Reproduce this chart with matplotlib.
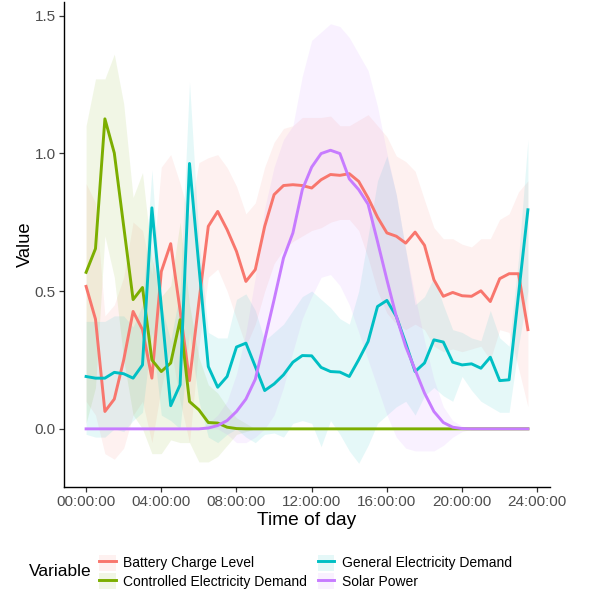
import numpy as np
import matplotlib
matplotlib.use("Agg")
import matplotlib.pyplot as plt
from matplotlib.patches import Patch
from matplotlib.lines import Line2D

plt.rcParams['font.family'] = ['Liberation Sans', 'DejaVu Sans']

# half-hourly steps, 00:00 .. 23:30
hours = np.arange(48) * 0.5

battery = [0.517, 0.398, 0.063, 0.108, 0.25, 0.426, 0.36, 0.184, 0.571, 0.672,
           0.43, 0.175, 0.46, 0.735, 0.789, 0.723, 0.644, 0.535, 0.578, 0.735,
           0.85, 0.883, 0.886, 0.883, 0.874, 0.904, 0.923, 0.92, 0.926, 0.898,
           0.838, 0.768, 0.711, 0.699, 0.674, 0.714, 0.666, 0.541, 0.481, 0.495,
           0.483, 0.481, 0.501, 0.462, 0.545, 0.563, 0.563, 0.36]
battery_lo = [0.10, 0.05, -0.09, -0.11, -0.07, 0.05, 0.10, -0.05, 0.15, 0.30,
              0.10, -0.05, 0.30, 0.55, 0.58, 0.50, 0.40, 0.30, 0.38, 0.50,
              0.60, 0.65, 0.68, 0.70, 0.72, 0.73, 0.75, 0.76, 0.76, 0.72,
              0.62, 0.50, 0.42, 0.38, 0.36, 0.38, 0.36, 0.30, 0.28, 0.29,
              0.28, 0.29, 0.30, 0.25, 0.36, 0.35, 0.22, 0.08]
battery_hi = [0.89, 0.82, 0.41, 0.45, 0.55, 0.75, 0.72, 0.56, 0.95, 0.995,
              0.89, 0.77, 0.966, 0.984, 0.995, 0.948, 0.88, 0.78, 0.82, 0.95,
              1.04, 1.09, 1.10, 1.13, 1.13, 1.13, 1.135, 1.10, 1.10, 1.12,
              1.14, 1.10, 1.06, 0.99, 0.97, 0.935, 0.83, 0.73, 0.69, 0.69,
              0.67, 0.66, 0.69, 0.69, 0.76, 0.78, 0.86, 0.90]

controlled = [0.568, 0.654, 1.125, 1.001, 0.735, 0.469, 0.513, 0.25, 0.208, 0.239,
              0.396, 0.099, 0.069, 0.023, 0.021, 0.006, 0.001, 0.0, 0.0, 0.0,
              0.0, 0.0, 0.0, 0.0, 0.0, 0.0, 0.0, 0.0, 0.0, 0.0,
              0.0, 0.0, 0.0, 0.0, 0.0, 0.0, 0.0, 0.0, 0.0, 0.0,
              0.0, 0.0, 0.0, 0.0, 0.0, 0.0, 0.0, 0.0]
controlled_lo = [0.02, 0.15, 0.70, 0.55, 0.25, 0.05, 0.0, -0.09, -0.09, -0.04,
                 -0.05, -0.05, -0.12, -0.12, -0.10, -0.06, -0.02, -0.01, 0.0, 0.0,
                 0.0, 0.0, 0.0, 0.0, 0.0, 0.0, 0.0, 0.0, 0.0, 0.0,
                 0.0, 0.0, 0.0, 0.0, 0.0, 0.0, 0.0, 0.0, 0.0, 0.0,
                 0.0, 0.0, 0.0, 0.0, 0.0, 0.0, 0.0, 0.0]
controlled_hi = [1.10, 1.27, 1.27, 1.36, 1.18, 0.84, 0.93, 0.62, 0.48, 0.52,
                 0.75, 0.45, 0.26, 0.16, 0.13, 0.08, 0.04, 0.02, 0.0, 0.0,
                 0.0, 0.0, 0.0, 0.0, 0.0, 0.0, 0.0, 0.0, 0.0, 0.0,
                 0.0, 0.0, 0.0, 0.0, 0.0, 0.0, 0.0, 0.0, 0.0, 0.0,
                 0.0, 0.0, 0.0, 0.0, 0.0, 0.0, 0.0, 0.0]

general = [0.19, 0.184, 0.184, 0.205, 0.2, 0.184, 0.232, 0.802, 0.444, 0.084,
           0.16, 0.963, 0.59, 0.226, 0.151, 0.19, 0.297, 0.311, 0.226, 0.139,
           0.163, 0.196, 0.242, 0.266, 0.265, 0.223, 0.208, 0.206, 0.19, 0.251,
           0.317, 0.444, 0.466, 0.408, 0.311, 0.208, 0.239, 0.323, 0.315, 0.242,
           0.232, 0.236, 0.22, 0.26, 0.175, 0.178, 0.487, 0.795]
general_lo = [-0.02, -0.03, -0.03, 0.0, -0.01, 0.03, 0.06, 0.35, 0.05, 0.03,
              0.0, 0.35, 0.10, -0.03, -0.05, -0.02, 0.0, -0.03, -0.05, -0.02,
              -0.015, -0.03, 0.02, 0.03, 0.02, -0.065, 0.03, -0.02, -0.08, -0.125,
              -0.06, 0.02, 0.05, 0.08, 0.10, 0.05, 0.12, 0.15, 0.12, 0.10,
              0.19, 0.14, 0.10, 0.08, 0.06, 0.06, 0.30, 0.50]
general_hi = [0.39, 0.39, 0.39, 0.41, 0.41, 0.37, 0.45, 0.94, 0.45, 0.32,
              0.50, 1.26, 0.69, 0.35, 0.33, 0.33, 0.47, 0.49, 0.43, 0.32,
              0.35, 0.38, 0.43, 0.48, 0.50, 0.47, 0.44, 0.40, 0.38, 0.50,
              0.70, 0.90, 0.99, 0.85, 0.65, 0.45, 0.48, 0.55, 0.45, 0.36,
              0.35, 0.33, 0.32, 0.43, 0.33, 0.30, 0.62, 1.05]

solar = [0.0, 0.0, 0.0, 0.0, 0.0, 0.0, 0.0, 0.0, 0.0, 0.0,
         0.0, 0.0, 0.0, 0.003, 0.012, 0.03, 0.063, 0.108, 0.18, 0.323,
         0.469, 0.62, 0.711, 0.868, 0.95, 0.999, 1.011, 0.999, 0.907, 0.868,
         0.815, 0.68, 0.541, 0.408, 0.299, 0.214, 0.13, 0.063, 0.023, 0.006,
         0.001, 0.0, 0.0, 0.0, 0.0, 0.0, 0.0, 0.0]
solar_lo = [0.0, 0.0, 0.0, 0.0, 0.0, 0.0, 0.0, 0.0, 0.0, 0.0,
            0.0, 0.0, 0.0, 0.0, 0.0, -0.02, -0.05, -0.05, -0.03, 0.0,
            0.05, 0.15, 0.28, 0.40, 0.48, 0.55, 0.56, 0.52, 0.45, 0.35,
            0.25, 0.15, 0.05, -0.03, -0.07, -0.08, -0.08, -0.08, -0.06, -0.03,
            -0.01, 0.0, 0.0, 0.0, 0.0, 0.0, 0.0, 0.0]
solar_hi = [0.0, 0.0, 0.0, 0.0, 0.0, 0.0, 0.0, 0.0, 0.0, 0.0,
            0.0, 0.0, 0.0, 0.02, 0.05, 0.10, 0.20, 0.35, 0.55, 0.80,
            0.95, 1.05, 1.10, 1.28, 1.41, 1.44, 1.47, 1.46, 1.42, 1.36,
            1.30, 1.17, 1.00, 0.85, 0.65, 0.48, 0.32, 0.18, 0.08, 0.03,
            0.01, 0.0, 0.0, 0.0, 0.0, 0.0, 0.0, 0.0]

names = ["Battery Charge Level", "Controlled Electricity Demand",
         "General Electricity Demand", "Solar Power"]
colors = ["#F8766D", "#7CAE00", "#00BFC4", "#C77CFF"]
series = [(battery, battery_lo, battery_hi),
          (controlled, controlled_lo, controlled_hi),
          (general, general_lo, general_hi),
          (solar, solar_lo, solar_hi)]

xtick_pos = [0, 4, 8, 12, 16, 20, 24]
xtick_lab = ["00:00:00", "04:00:00", "08:00:00", "12:00:00",
             "16:00:00", "20:00:00", "24:00:00"]
ytick_pos = [0.0, 0.5, 1.0, 1.5]

fig = plt.figure(figsize=(5.95, 5.92), dpi=100)
ax = fig.add_axes([64/595, 1 - 487/592, 486/595, 485/592])

for (v, lo, hi), c in zip(series, colors):
    ax.fill_between(hours, lo, hi, color=c, alpha=0.1, lw=0)
for (v, lo, hi), c in zip(series, colors):
    ax.plot(hours, v, color=c, lw=2.1, solid_joinstyle='round')

ax.set_xlim(-1.175, 24.675)
ax.set_ylim(-0.211, 1.549)
ax.set_xticks(xtick_pos)
ax.set_xticklabels(xtick_lab)
ax.set_yticks(ytick_pos)
ax.set_yticklabels(["0.0", "0.5", "1.0", "1.5"])
for s in ["top", "right"]:
    ax.spines[s].set_visible(False)
for s in ["left", "bottom"]:
    ax.spines[s].set_linewidth(1.0)
ax.tick_params(length=3.5, width=0.9, color="#333333", labelcolor="#4D4D4D",
               labelsize=11, pad=2.5)
ax.set_xlabel("Time of day", fontsize=13.8, labelpad=2)
ax.set_ylabel("Value", fontsize=13.2)
ax.yaxis.set_label_coords(-0.0617, 0.5)

handles = [(Patch(facecolor=c, alpha=0.1, lw=0), Line2D([], [], color=c, lw=2.1))
           for c in colors]
fig.text(29/595, 1 - 572/592, "Variable", fontsize=12.5, va="center", ha="left")
fig.legend(handles, names, loc="center left", bbox_to_anchor=(99/595, 1 - 572/592),
           ncol=2, frameon=False, fontsize=10, handlelength=1.2, handleheight=1.4,
           handletextpad=0.55, columnspacing=0.75, labelspacing=0.2,
           borderpad=0, borderaxespad=0)

fig.savefig("out.png", dpi=100)
